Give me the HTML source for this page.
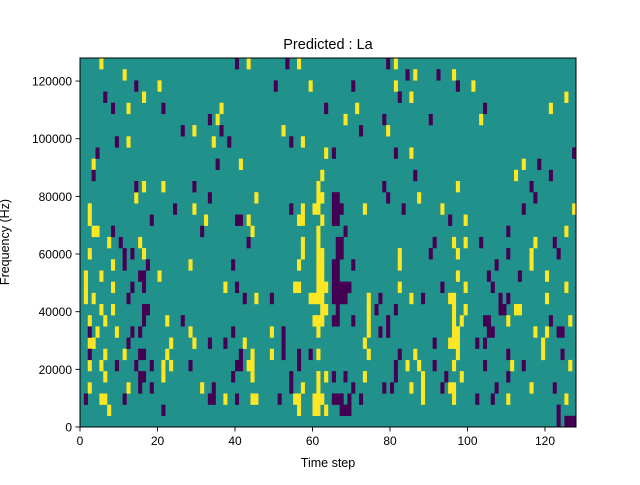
<!DOCTYPE html>
<html><head><meta charset="utf-8">
<style>
body{margin:0;background:#fff;width:640px;height:480px;overflow:hidden;font-family:"Liberation Sans","DejaVu Sans",sans-serif;}
text{font-family:"Liberation Sans","DejaVu Sans",sans-serif;fill:#000;}
</style></head>
<body>
<svg id="chart" width="640" height="480" xmlns="http://www.w3.org/2000/svg">
<rect width="640" height="480" fill="#fff"/>
<text x="328" y="49" font-size="14.5" text-anchor="middle">Predicted : La</text>
<g id="cells"></g>
<g id="axes"></g>
<text x="328" y="467" font-size="12.5" text-anchor="middle">Time step</text>
<text x="0" y="0" font-size="12.5" text-anchor="middle" transform="translate(9,242) rotate(-90)">Frequency (Hz)</text>
</svg>
<script>
const nTime = 128;
const nBins = 33;
const fMax = 128000;
const xTicks = [0,20,40,60,80,100,120];
const yTicks = [0,20000,40000,60000,80000,100000,120000];
const yTickLabels = ["0","20000","40000","60000","80000","100000","120000"];
// rows listed from top (highest frequency bin) to bottom
const yellowByRow = [
[5,43,56,81],[11,86,96],[20,59,81,101],[16,85,125],[12,36,71,121],[35,68,103],[29,52,79],[12,34,57],
[63,85],[3,41,114],[62,112],[16,21,61,97],[14,45,61,62,87],[2,29,57,60,61,73,93,127],[2,32,43,56,57,62,99],
[3,4,44,61,125],[7,15,57,61,96,99,117],[2,16,57,61,62,82,97,116],[8,28,56,61,62,82,116],[1,5,20,61,62,97,120],
[1,8,37,55,56,61,62,63,82,99,125],[1,3,45,59,60,61,62,74,85,95,96,120],[5,8,62,63,74,96,99,112,113],
[2,6,22,60,61,62,74,96,98,110,126],[4,9,28,49,61,74,96,97,117,120],[2,3,23,29,42,73,95,96,97,119],
[6,11,22,44,49,61,74,86,97,119],[2,5,21,23,43,44,84,87,96,111,126],[6,21,44,61,63,73,88,98],
[2,12,31,57,61,85,88,95,96,116],[5,6,37,44,45,55,56,60,61,62,88,96,110,125],[7,56,60,61,63],[]
];
const purpleByRow = [
[40,53,79],[84,92],[14,50,70,97],[6,82],[8,21,63,104],[33,78,90],[26,36,72],[9,38,54],
[4,65,81,127],[35,118],[3,86,121],[14,29,78,116],[33,65,66,79,117],[24,54,65,66,67,83,114],[18,40,41,65,66,95],
[8,31,68,110],[10,43,66,67,91,103,122],[11,13,66,67,90,110,123],[11,17,39,65,66,70,107],[15,16,65,66,105,113],
[13,16,40,65,66,67,68,69,93,106],[12,42,49,65,66,67,68,77,88,108,110],[16,17,66,76,81,108,109],
[16,26,65,66,70,79,104,105,121],[2,13,15,39,52,77,79,105,106,123,124],[12,33,37,52,91,102,104],
[2,15,16,41,52,56,59,82,110,124],[9,14,18,28,40,41,56,81,91,104,114],[15,16,39,54,65,68,81,94,110],
[15,18,34,54,70,78,80,93,107,122],[1,11,33,34,40,51,65,66,67,69,72,102,106],[21,67,68,69,123],[123,125,126,127]
];
const L=80,R=576,T=58,B=427;
const NS="http://www.w3.org/2000/svg";
function xs(t){return L+(R-L)*t/nTime;}
function ys(f){return B-(B-T)*f/fMax;}
function rowTop(bin){return T+(B-T)*(nBins-1-bin)/nBins;}
const rowH=(B-T)/nBins;
const cells=document.getElementById('cells');
function mk(tag,attrs,parent){const e=document.createElementNS(NS,tag);for(const k in attrs)e.setAttribute(k,attrs[k]);parent.appendChild(e);return e;}
const bg=mk('rect',{x:L,y:T,width:R-L,height:B-T,fill:'#21918c'},cells);


function drawCells(data,color,name){
  data.forEach((times,r)=>{
    const bin=nBins-1-r;
    times.forEach(t=>{
      const c=mk('rect',{x:xs(t),y:rowTop(bin),width:xs(t+1)-xs(t)+0.2,height:rowH+0.2,fill:color},cells);
      
      
    });
  });
}
drawCells(yellowByRow,'#fde725','heatmap-cell-high');
drawCells(purpleByRow,'#440154','heatmap-cell-low');
const axes=document.getElementById('axes');
const frame=mk('rect',{x:L,y:T,width:R-L,height:B-T,fill:'none',stroke:'#000','stroke-width':1},axes);


xTicks.forEach(v=>{
  const x=xs(v);
  const tk=mk('line',{x1:x,x2:x,y1:B,y2:B+4.5,stroke:'#000','stroke-width':0.9},axes);
  
  
  const tl=mk('text',{x:x,y:B+18,'font-size':12,'text-anchor':'middle'},axes);
  tl.textContent=String(v);
  
  
});
yTicks.forEach((v,i)=>{
  const y=ys(v);
  const tk=mk('line',{x1:L-4.5,x2:L,y1:y,y2:y,stroke:'#000','stroke-width':0.9},axes);
  
  
  const tl=mk('text',{x:L-8,y:y+4.5,'font-size':12,'text-anchor':'end'},axes);
  tl.textContent=yTickLabels[i];
  
  
});
</script>
</body></html>
